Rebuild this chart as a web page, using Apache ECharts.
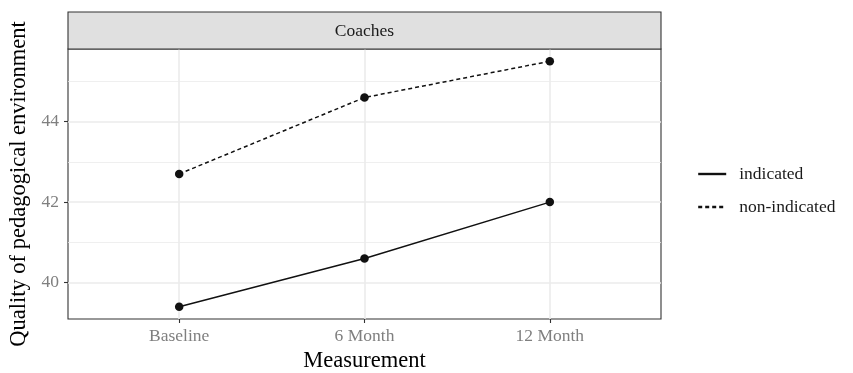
<!DOCTYPE html>
<html>
<head>
<meta charset="utf-8">
<script src="https://cdn.jsdelivr.net/npm/echarts@6/dist/echarts.min.js"></script>
<style>html,body{margin:0;padding:0;background:#fff;}#c{width:853px;height:373px;}</style>
</head>
<body>
<div id="c"></div>
<script>
const categories = ['Baseline', '6 Month', '12 Month'];
const indicated = [39.4, 40.6, 42.0];
const nonIndicated = [42.7, 44.6, 45.5];
const yTicks = [40, 42, 44];
const yMinor = [41, 43, 45];
const facetLabel = 'Coaches';
const seriesNames = ['indicated', 'non-indicated'];

const FONT = 'Liberation Serif';
const chart = echarts.init(document.getElementById('c'), null, {renderer: 'canvas'});

const allVals = indicated.concat(nonIndicated);
const lo = Math.min(...allVals), hi = Math.max(...allVals);
const pad = (hi - lo) * 0.05;

function toXY(arr) { return arr.map((v, i) => [i + 1, v]); }

const gridL = 68, gridR = 661, gridT = 49, gridB = 319, stripT = 12;

chart.setOption({
  animation: false,
  backgroundColor: '#ffffff',
  grid: {left: gridL, right: 853 - gridR, top: gridT, bottom: 373 - gridB, show: true,
         outerBoundsMode: 'none', containLabel: false,
         borderColor: '#333333', borderWidth: 1.1, backgroundColor: 'transparent'},
  graphic: [
    {type: 'rect', shape: {x: gridL, y: stripT, width: gridR - gridL, height: gridT - stripT},
     style: {fill: '#E0E0E0', stroke: '#333333', lineWidth: 1.1}, z: 10},
    {type: 'text', x: (gridL + gridR) / 2, y: (stripT + gridT) / 2 + 1,
     style: {text: facetLabel, font: '17.5px "' + FONT + '"', fill: '#1A1A1A', textAlign: 'center', textVerticalAlign: 'middle'}, z: 11}
  ],
  legend: {
    orient: 'vertical', left: 692, top: 160,
    itemWidth: 28, itemHeight: 18, itemGap: 15,
    itemStyle: {opacity: 0},
    lineStyle: {width: 2.4},
    textStyle: {fontFamily: FONT, fontSize: 17.5, color: '#1A1A1A', padding: [0, 0, 0, 8]},
    data: seriesNames
  },
  xAxis: {
    type: 'value', min: 0.4, max: 3.6,
    name: 'Measurement', nameLocation: 'middle', nameGap: 30,
    nameTextStyle: {fontFamily: FONT, fontSize: 22.5, color: '#000000'},
    axisLine: {show: false},
    axisTick: {show: true, length: 4, customValues: [1, 2, 3], lineStyle: {color: '#333333', width: 1.1}},
    axisLabel: {customValues: [1, 2, 3], formatter: v => categories[Math.round(v) - 1] || '',
                fontFamily: FONT, fontSize: 17.5, color: '#7F7F7F', margin: 8},
    splitLine: {show: true, lineStyle: {color: '#EBEBEB', width: 1.6}}
  },
  yAxis: {
    type: 'value', min: lo - pad, max: hi + pad,
    name: 'Quality of pedagogical environment', nameLocation: 'middle', nameGap: 36,
    nameTextStyle: {fontFamily: FONT, fontSize: 22.5, color: '#000000'},
    axisLine: {show: false},
    axisTick: {show: true, length: 4, customValues: yTicks, lineStyle: {color: '#333333', width: 1.1}},
    axisLabel: {customValues: yTicks, fontFamily: FONT, fontSize: 17.5, color: '#7F7F7F', margin: 9},
    splitLine: {show: true, lineStyle: {color: '#EBEBEB', width: 1.6}}
  },
  series: [
    {
      name: seriesNames[0], type: 'line', data: toXY(indicated),
      symbol: 'circle', symbolSize: 8.5,
      lineStyle: {color: '#111111', width: 1.5, type: 'solid'},
      itemStyle: {color: '#111111'},
      z: 5,
      markLine: {silent: true, symbol: 'none', label: {show: false}, animation: false,
                 lineStyle: {color: '#EBEBEB', width: 0.8, type: 'solid'},
                 data: yMinor.map(v => ({yAxis: v})), z: 1}
    },
    {
      name: seriesNames[1], type: 'line', data: toXY(nonIndicated),
      symbol: 'circle', symbolSize: 8.5,
      lineStyle: {color: '#111111', width: 1.5, type: [4, 3]},
      itemStyle: {color: '#111111'},
      z: 5
    }
  ]
});
</script>
</body>
</html>
